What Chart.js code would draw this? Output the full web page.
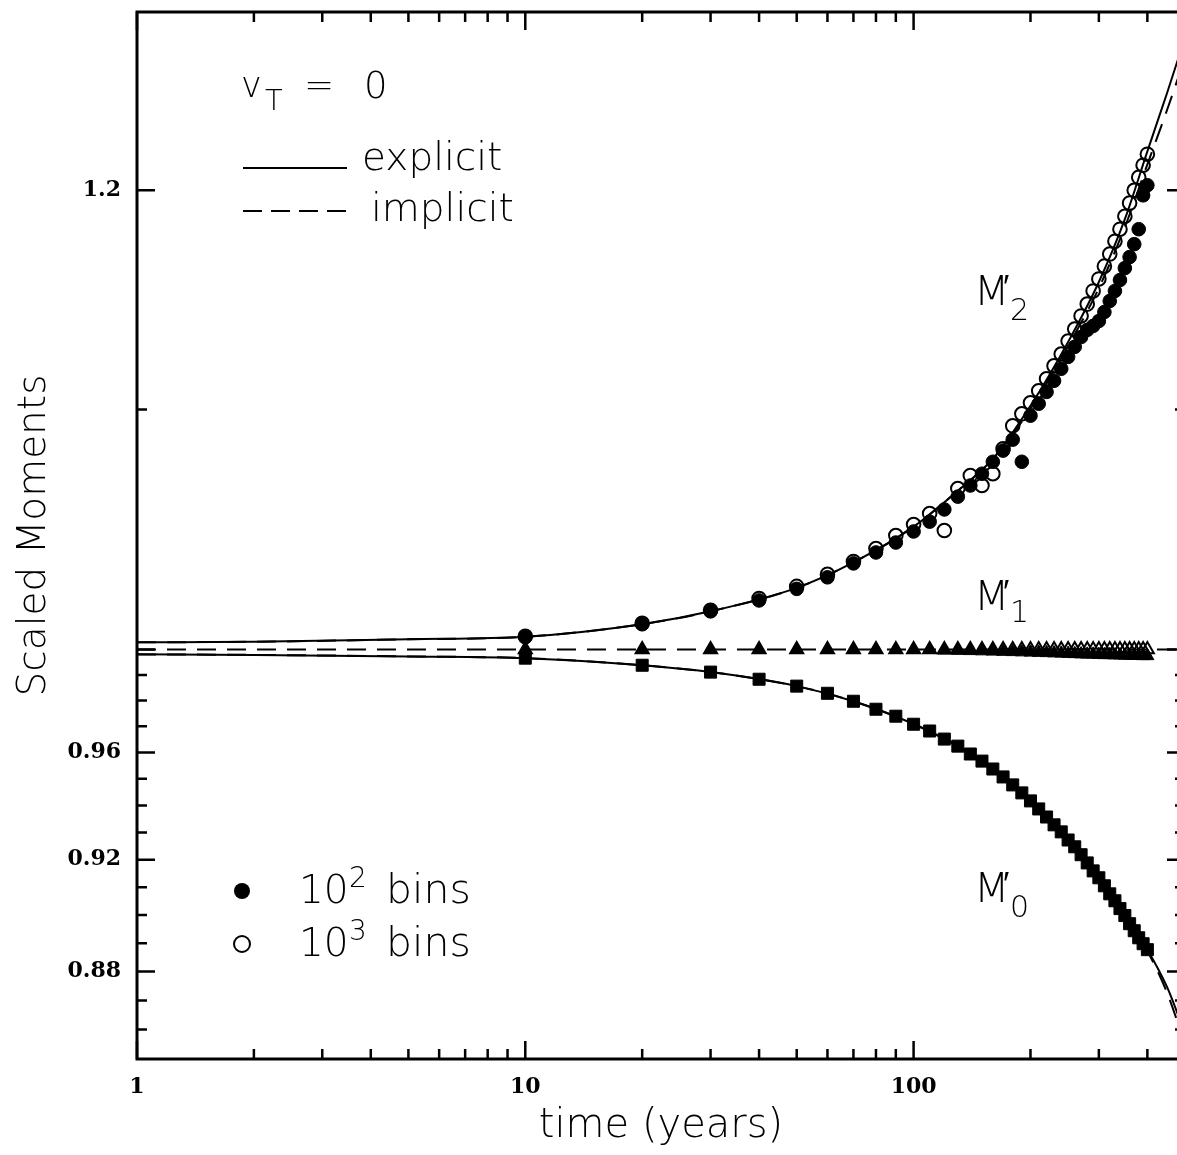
<!DOCTYPE html>
<html>
<head>
<meta charset="utf-8">
<script src="https://cdn.jsdelivr.net/npm/chart.js@4.4.1/dist/chart.umd.min.js"></script>
<style>
  html, body { margin: 0; padding: 0; background: #fff; overflow: hidden; }
  #wrap { position: relative; width: 1186px; height: 1155px; }
</style>
</head>
<body>
<div id="wrap"><canvas id="myChart"></canvas></div>
<script>
// sample times of the binned runs (years)
const binTimes = [10, 20, 30, 40, 50, 60, 70, 80, 90, 100,
                  110, 120, 130, 140, 150, 160, 170, 180, 190, 200,
                  210, 220, 230, 240, 250, 260, 270, 280, 290, 300,
                  310, 320, 330, 340, 350, 360, 370, 380, 390, 400];

// M'2 with 10^2 bins (filled circles) and 10^3 bins (open circles)
const m2Bins100 = [1.0049, 1.0101, 1.0153, 1.0197, 1.0244, 1.0291, 1.0348, 1.0393, 1.0434, 1.0480,
                   1.0521, 1.0572, 1.0626, 1.0673, 1.0723, 1.0774, 1.0822, 1.0869, 1.0774, 1.0973,
                   1.1025, 1.1077, 1.1126, 1.1179, 1.1232, 1.1277, 1.1321, 1.1353, 1.1371, 1.1393,
                   1.1434, 1.1484, 1.1530, 1.1580, 1.1635, 1.1686, 1.1746, 1.1816, 1.1976, 1.2024];
const m2Bins1000 = [1.0053, 1.0105, 1.0157, 1.0205, 1.0254, 1.0303, 1.0356, 1.0409, 1.0463, 1.0509,
                    1.0555, 1.0484, 1.0660, 1.0715, 1.0673, 1.0723, 1.0830, 1.0929, 1.0981, 1.1029,
                    1.1082, 1.1135, 1.1192, 1.1245, 1.1303, 1.1357, 1.1416, 1.1470, 1.1530, 1.1585,
                    1.1644, 1.1700, 1.1760, 1.1816, 1.1877, 1.1939, 1.2000, 1.2062, 1.2120, 1.2173];

// M'1 (triangles)
const m1Bins100 = [1.0000, 1.0000, 1.0000, 1.0000, 1.0000, 1.0000, 1.0000, 1.0000, 1.0000, 1.0000,
                   1.0000, 0.9997, 0.9996, 0.9995, 0.9994, 0.9993, 0.9992, 0.9991, 0.9990, 0.9989,
                   0.9988, 0.9987, 0.9986, 0.9985, 0.9984, 0.9983, 0.9982, 0.9981, 0.9981, 0.9980,
                   0.9979, 0.9979, 0.9978, 0.9978, 0.9977, 0.9977, 0.9976, 0.9976, 0.9975, 0.9975];
const m1Bins1000 = [1, 1, 1, 1, 1, 1, 1, 1, 1, 1,
                    1, 1, 1, 1, 1, 1, 1, 1, 1, 1,
                    1, 1, 1, 1, 1, 1, 1, 1, 1, 1,
                    1, 1, 1, 1, 1, 1, 1, 1, 1, 1];

// M'0 (squares)
const m0Bins100 = [0.9966, 0.9938, 0.9911, 0.9883, 0.9856, 0.9828, 0.9797, 0.9766, 0.9739, 0.9708,
                   0.9682, 0.9651, 0.9624, 0.9594, 0.9567, 0.9537, 0.9507, 0.9477, 0.9447, 0.9417,
                   0.9387, 0.9357, 0.9328, 0.9302, 0.9272, 0.9247, 0.9218, 0.9188, 0.9159, 0.9134,
                   0.9105, 0.9076, 0.9051, 0.9023, 0.8998, 0.8969, 0.8944, 0.8919, 0.8898, 0.8877];

// analytic curves: explicit (solid) and implicit (dashed)
const curveTimes = [1, 2, 5, 10, 20, 30, 50, 70, 100, 130, 160, 200, 250, 300, 350, 400, 450, 500];
const m2Explicit = [1.0029, 1.0031, 1.0041, 1.0051, 1.0101, 1.0153, 1.0248, 1.0352, 1.0500, 1.0651,
                    1.0787, 1.1016, 1.1299, 1.1571, 1.1863, 1.2187, 1.2475, 1.2750];
const m2Implicit = [1.0029, 1.0031, 1.0041, 1.0051, 1.0101, 1.0153, 1.0248, 1.0352, 1.0500, 1.0651,
                    1.0785, 1.1003, 1.1281, 1.1543, 1.1826, 1.2124, 1.2391, 1.2649];
const m0Explicit = [0.9981, 0.9979, 0.9973, 0.9966, 0.9938, 0.9911, 0.9856, 0.9797, 0.9709, 0.9624,
                    0.9537, 0.9417, 0.9273, 0.9134, 0.8997, 0.8877, 0.8745, 0.8586];
const m0Implicit = [0.9981, 0.9979, 0.9973, 0.9966, 0.9938, 0.9911, 0.9856, 0.9797, 0.9709, 0.9624,
                    0.9537, 0.9417, 0.9273, 0.9134, 0.8997, 0.8872, 0.8725, 0.8550];
const m1Times = [1, 500];
const m1Implicit = [1, 1];

// axis ticks
const xLabelTicks = [1, 10, 100];
const xMinorTicks = [2, 3, 4, 5, 6, 7, 8, 9, 20, 30, 40, 50, 60, 70, 80, 90, 200, 300, 400];
const yLabelTicks = [0.88, 0.92, 0.96, 1.2];
const yMajorTicks = [0.88, 0.92, 0.96, 1.0, 1.2];
const yMinorTicks = [0.86, 0.87, 0.89, 0.90, 0.91, 0.93, 0.94, 0.95, 0.97, 0.98, 0.99, 1.1];

const thinFamily = '"DejaVu Sans", sans-serif';

function pts(xs, ys) {
    return xs.map((x, i) => ({ x: x, y: ys[i] }));
}

function curve(xs, ys, dashed) {
    return {
        data: pts(xs, ys),
        showLine: true,
        borderColor: '#000',
        borderWidth: 2,
        borderDash: dashed ? [19, 11] : [],
        pointRadius: 0,
        fill: false,
        cubicInterpolationMode: 'monotone',
        order: 10
    };
}

function markers(xs, ys, style, radius, filled) {
    return {
        data: pts(xs, ys),
        showLine: false,
        pointStyle: style,
        pointRadius: radius,
        pointBackgroundColor: filled ? '#000' : 'rgba(0,0,0,0)',
        pointBorderColor: '#000',
        pointBorderWidth: filled ? 1 : 2,
        order: filled ? 2 : 1
    };
}

// box with inward ticks on all four sides
const frameAndTicks = {
    id: 'frameAndTicks',
    afterDatasetsDraw(chart) {
        const { ctx, chartArea: a, scales: { x, y } } = chart;
        ctx.save();
        ctx.strokeStyle = '#000';
        ctx.lineWidth = 2.5;
        ctx.beginPath();
        const seg = (px, py, dx, dy) => { ctx.moveTo(px, py); ctx.lineTo(px + dx, py + dy); };
        xLabelTicks.forEach(v => { const p = x.getPixelForValue(v); seg(p, a.bottom, 0, -18); seg(p, a.top, 0, 18); });
        xMinorTicks.forEach(v => { const p = x.getPixelForValue(v); seg(p, a.bottom, 0, -10); seg(p, a.top, 0, 10); });
        yMajorTicks.forEach(v => { const p = y.getPixelForValue(v); seg(a.left, p, 18, 0); seg(a.right, p, -18, 0); });
        yMinorTicks.forEach(v => { const p = y.getPixelForValue(v); seg(a.left, p, 10, 0); seg(a.right, p, -10, 0); });
        ctx.stroke();
        ctx.lineWidth = 3;
        ctx.strokeRect(a.left, a.top, a.right - a.left, a.bottom - a.top);
        ctx.restore();
    }
};

// text and keys written inside the plot
const plotText = {
    id: 'plotText',
    afterDraw(chart) {
        const ctx = chart.ctx;
        ctx.save();
        ctx.fillStyle = '#000';
        ctx.strokeStyle = '#000';
        ctx.textBaseline = 'alphabetic';
        ctx.textAlign = 'left';
        const put = (s, x, y, size) => {
            ctx.font = '200 ' + size + 'px ' + thinFamily;
            ctx.fillText(s, x, y);
        };

        // v_T = 0
        put('v', 241, 97, 35);
        put('T', 265, 110, 29);
        put('=', 304, 97, 36);
        put('0', 364, 98, 37);

        // line key
        ctx.lineWidth = 2;
        ctx.beginPath();
        ctx.moveTo(243, 168); ctx.lineTo(347, 168);
        ctx.stroke();
        ctx.setLineDash([19, 9]);
        ctx.beginPath();
        ctx.moveTo(243, 211); ctx.lineTo(347, 211);
        ctx.stroke();
        ctx.setLineDash([]);
        put('explicit', 362, 170, 39);
        put('implicit', 371, 221, 39);

        // marker key
        ctx.beginPath();
        ctx.arc(242, 891, 8, 0, 2 * Math.PI);
        ctx.fill();
        ctx.beginPath();
        ctx.arc(242, 944, 8, 0, 2 * Math.PI);
        ctx.stroke();
        put('10', 299, 903, 39);
        put('2', 349, 887, 28);
        put('bins', 386, 903, 41);
        put('10', 299, 956, 39);
        put('3', 349, 940, 28);
        put('bins', 386, 956, 41);

        // moment labels
        put('M', 974, 305, 41);
        put('\u2032', 1003, 298, 34);
        put('2', 1010, 320, 30);
        put('M', 974, 610, 41);
        put('\u2032', 1003, 603, 34);
        put('1', 1010, 622, 30);
        put('M', 974, 902, 41);
        put('\u2032', 1003, 895, 34);
        put('0', 1010, 917, 30);
        ctx.restore();
    }
};

const ctx = document.getElementById('myChart').getContext('2d');

new Chart(ctx, {
    type: 'scatter',
    data: {
        datasets: [
            curve(curveTimes, m2Explicit, false),
            curve(curveTimes, m2Implicit, true),
            curve(curveTimes, m0Explicit, false),
            curve(curveTimes, m0Implicit, true),
            curve(m1Times, m1Implicit, true),
            markers(binTimes, m0Bins100, 'rect', 8.5, true),
            markers(binTimes, m1Bins100, 'triangle', 7.5, true),
            markers(binTimes, m1Bins1000, 'triangle', 7.5, false),
            markers(binTimes, m2Bins100, 'circle', 6.8, true),
            markers(binTimes, m2Bins1000, 'circle', 6.8, false)
        ]
    },
    options: {
        responsive: true,
        maintainAspectRatio: false,
        animation: false,
        events: [],
        layout: { autoPadding: false, padding: { top: 12, right: 1, left: 0, bottom: 0 } },
        plugins: {
            legend: { display: false },
            tooltip: { enabled: false }
        },
        scales: {
            x: {
                type: 'logarithmic',
                position: 'bottom',
                min: 1,
                max: 500,
                grid: { display: false, drawTicks: false },
                border: { display: false },
                afterBuildTicks: scale => { scale.ticks = xLabelTicks.map(v => ({ value: v })); },
                afterFit: scale => {
                    scale.height = 96;
                    scale.paddingLeft = 0;
                    scale.paddingRight = 0;
                },
                ticks: {
                    autoSkip: false,
                    maxRotation: 0,
                    padding: 15,
                    color: '#000',
                    font: { family: '"DejaVu Serif", serif', size: 22, weight: 'bold' },
                    callback: value => String(value)
                },
                title: {
                    display: true,
                    text: 'time (years)',
                    color: '#000',
                    font: { family: thinFamily, size: 40, weight: '200' },
                    padding: { top: 0, bottom: 4 }
                }
            },
            y: {
                type: 'logarithmic',
                position: 'left',
                min: 0.8507,
                max: 1.288,
                grid: { display: false, drawTicks: false },
                border: { display: false },
                afterBuildTicks: scale => { scale.ticks = yLabelTicks.map(v => ({ value: v })); },
                afterFit: scale => {
                    scale.width = 137;
                    scale.paddingTop = 0;
                    scale.paddingBottom = 0;
                },
                ticks: {
                    autoSkip: false,
                    padding: 16,
                    color: '#000',
                    font: { family: '"DejaVu Serif", serif', size: 22, weight: 'bold' },
                    callback: value => String(value)
                },
                title: {
                    display: true,
                    text: 'Scaled Moments',
                    color: '#000',
                    font: { family: thinFamily, size: 39, weight: '200' },
                    padding: { top: 11, bottom: 0 }
                }
            }
        }
    },
    plugins: [frameAndTicks, plotText]
});
</script>
</body>
</html>
